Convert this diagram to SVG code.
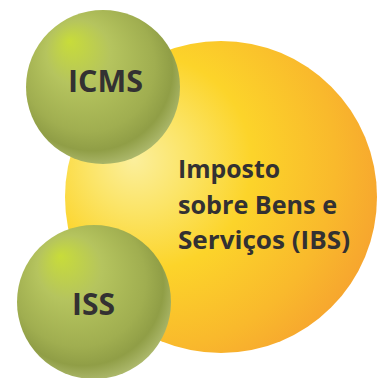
<svg xmlns="http://www.w3.org/2000/svg" width="382" height="378" viewBox="0 0 382 378">
<defs>
<radialGradient id="gOrange" cx="0.3" cy="0.4" r="0.82" fx="0.22" fy="0.38">
<stop offset="0" stop-color="#fbef9c"/>
<stop offset="0.2" stop-color="#fbe466"/>
<stop offset="0.42" stop-color="#fcd42a"/>
<stop offset="0.72" stop-color="#f9b92c"/>
<stop offset="1" stop-color="#f59a30"/>
</radialGradient>
<radialGradient id="gGreen" cx="0.45" cy="0.42" r="0.6" fx="0.28" fy="0.2">
<stop offset="0" stop-color="#c8dc3a"/>
<stop offset="0.35" stop-color="#b5c45e"/>
<stop offset="0.72" stop-color="#a0ae50"/>
<stop offset="0.87" stop-color="#909e46"/>
<stop offset="1" stop-color="#aeba6e"/>
</radialGradient>
<style>
.lbl{font-family:"Open Sans","Noto Sans",sans-serif;font-weight:bold;fill:#333132}
</style>
</defs>
<g id="ibs">
<circle cx="221" cy="197" r="156" fill="url(#gOrange)"/>
<text class="lbl" font-size="25"><tspan x="178" y="178" textLength="102" lengthAdjust="spacingAndGlyphs">Imposto</tspan><tspan x="178" y="214" textLength="159" lengthAdjust="spacingAndGlyphs">sobre Bens e</tspan><tspan x="178" y="249" textLength="172" lengthAdjust="spacingAndGlyphs">Serviços (IBS)</tspan></text>
</g>
<g id="icms">
<circle cx="103" cy="87" r="77" fill="url(#gGreen)"/>
<text class="lbl" x="68" y="92" font-size="30" textLength="75" lengthAdjust="spacingAndGlyphs">ICMS</text>
</g>
<g id="iss">
<circle cx="94" cy="302" r="77" fill="url(#gGreen)"/>
<text class="lbl" x="72" y="315" font-size="31" textLength="43" lengthAdjust="spacingAndGlyphs">ISS</text>
</g>
<g id="connectors"/>
</svg>
